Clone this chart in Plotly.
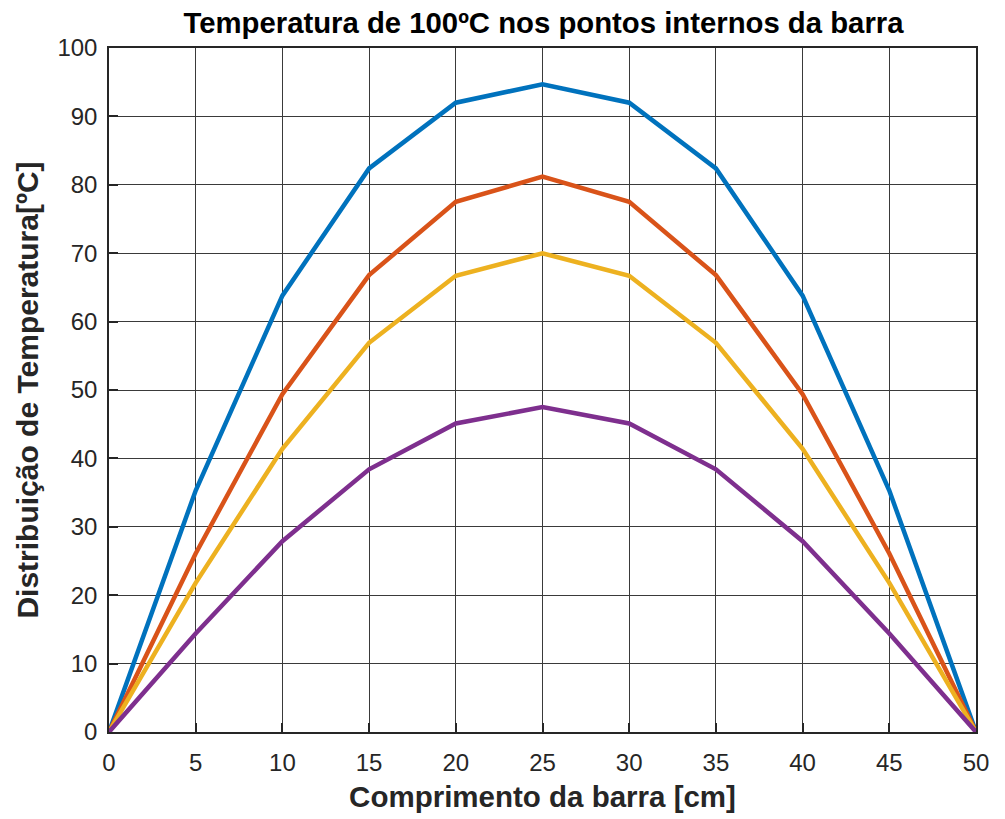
import plotly.graph_objects as go

# Posição ao longo da barra [cm]
posicao = [0, 5, 10, 15, 20, 25, 30, 35, 40, 45, 50]

# Perfis de temperatura em quatro instantes
temp_1 = [0, 35.3, 63.8, 82.4, 92.0, 94.7, 92.0, 82.4, 63.8, 35.3, 0]
temp_2 = [0, 26.1, 49.4, 66.8, 77.5, 81.2, 77.5, 66.8, 49.4, 26.1, 0]
temp_3 = [0, 21.8, 41.4, 56.9, 66.7, 70.0, 66.7, 56.9, 41.4, 21.8, 0]
temp_4 = [0, 14.4, 27.9, 38.4, 45.1, 47.5, 45.1, 38.4, 27.9, 14.4, 0]

series = [temp_1, temp_2, temp_3, temp_4]
cores = ["#0072BD", "#D95319", "#EDB120", "#7E2F8E"]

fig = go.Figure()
for valores, cor in zip(series, cores):
    fig.add_trace(go.Scatter(
        x=posicao, y=valores, mode="lines",
        line=dict(color=cor, width=4.5),
        showlegend=False,
    ))

fonte = "Liberation Sans, Arial, Helvetica, sans-serif"
eixo = dict(
    showgrid=True, gridcolor="#3a3a3a", gridwidth=1,
    showline=True, linecolor="#262626", linewidth=1.5, mirror=True,
    ticks="inside", ticklen=9, tickwidth=1.5, tickcolor="#262626",
    tickfont=dict(family=fonte, size=24, color="#262626"),
    zeroline=False,
)

fig.update_layout(
    width=1005, height=819,
    margin=dict(l=109, r=29, t=48, b=87),
    paper_bgcolor="white", plot_bgcolor="white",
    title=dict(
        text="<b>Temperatura de 100ºC nos pontos internos da barra</b>",
        x=0.5408, xanchor="center", y=0.972, yanchor="middle",
        font=dict(family=fonte, size=29.3, color="black"),
    ),
    xaxis=dict(
        eixo, range=[0, 50], tickvals=list(range(0, 51, 5)),
        ticklabelstandoff=8,
        title=dict(text="<b>Comprimento da barra [cm]</b>",
                   font=dict(family=fonte, size=29.5, color="#262626"),
                   standoff=12),
    ),
    yaxis=dict(
        eixo, range=[0, 100], tickvals=list(range(0, 101, 10)),
        ticklabelstandoff=5,
        title=dict(text="<b>Distribuição de Temperatura[ºC]</b>",
                   font=dict(family=fonte, size=30, color="#262626"),
                   standoff=10),
    ),
)

fig.write_html("out.html")
